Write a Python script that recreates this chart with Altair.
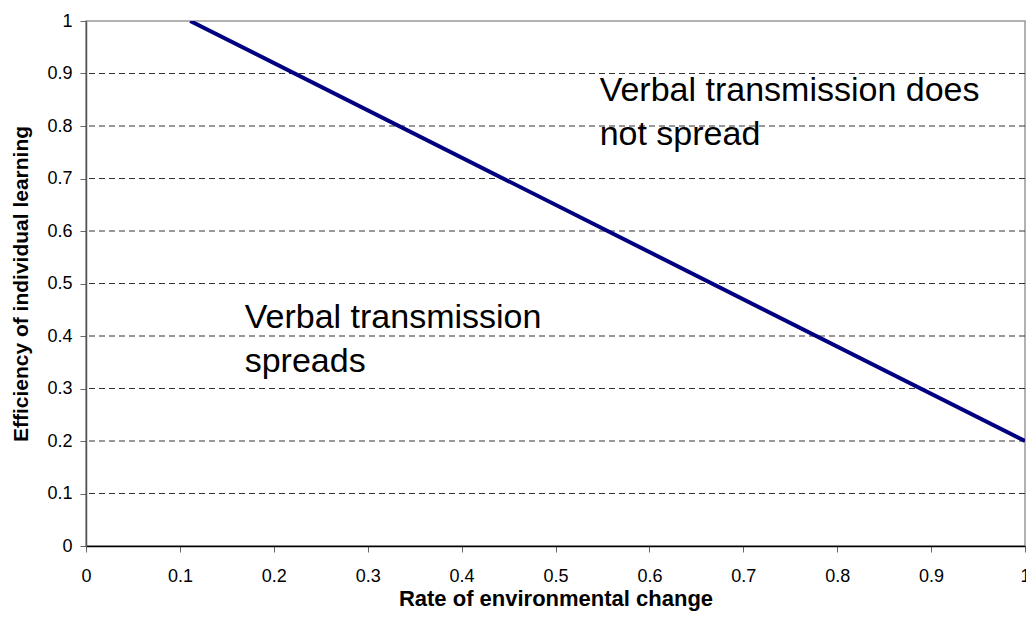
import altair as alt
import pandas as pd

# Boundary line (rate of environmental change vs efficiency of individual learning)
LINE_X = [0.111, 1.0]
LINE_Y = [1.0, 0.2]

# Dashed horizontal gridlines
GRID_Y = [0.1, 0.2, 0.3, 0.4, 0.5, 0.6, 0.7, 0.8, 0.9]

# Axis tick values
TICKS = [0, 0.1, 0.2, 0.3, 0.4, 0.5, 0.6, 0.7, 0.8, 0.9, 1]

# Region annotations
NOTE_TEXT = ["Verbal transmission\nspreads", "Verbal transmission does\nnot spread"]
NOTE_X = [0.169, 0.547]
NOTE_Y = [0.415, 0.848]

line_df = pd.DataFrame({"x": LINE_X, "y": LINE_Y})
grid_df = pd.DataFrame({"y": GRID_Y})
note_df = pd.DataFrame({"x": NOTE_X, "y": NOTE_Y, "t": NOTE_TEXT})

FONT = "Liberation Sans"

xscale = alt.Scale(domain=[0, 1], nice=False, zero=False)
yscale = alt.Scale(domain=[0, 1], nice=False, zero=False)

xaxis = alt.Axis(
    values=TICKS, format="~g", grid=False, title="Rate of environmental change",
    domainColor="#000000", domainWidth=1.5, tickColor="#666666", tickSize=6,
    labelFontSize=18, labelColor="#000000", labelPadding=15, labelFont=FONT,
    titleFont=FONT, titleFontSize=22, titleFontWeight="bold", titleColor="#000000",
    titlePadding=3, labelFlush=False,
)
yaxis = alt.Axis(
    values=TICKS, format="~g", grid=False, title="Efficiency of individual learning",
    domainColor="#555555", domainWidth=1.5, tickColor="#666666", tickSize=6,
    labelFontSize=18, labelColor="#000000", labelPadding=8, labelFont=FONT,
    titleFont=FONT, titleFontSize=21, titleFontWeight="bold", titleColor="#000000",
    titlePadding=15, labelFlush=False,
)

grid = alt.Chart(grid_df).mark_rule(
    color="#333333", strokeWidth=1, strokeDash=[6, 4]
).encode(
    y=alt.Y("y:Q", scale=yscale, axis=yaxis),
)

line = alt.Chart(line_df).mark_line(
    color="#000080", strokeWidth=4, clip=True
).encode(
    x=alt.X("x:Q", scale=xscale, axis=xaxis),
    y=alt.Y("y:Q", scale=yscale, axis=yaxis),
)

notes = alt.Chart(note_df).mark_text(
    align="left", baseline="alphabetic", font=FONT, fontSize=34,
    color="#000000", lineBreak="\n", lineHeight=44,
).encode(
    x=alt.X("x:Q", scale=xscale, axis=xaxis),
    y=alt.Y("y:Q", scale=yscale, axis=yaxis),
    text="t:N",
)

chart = alt.layer(grid, line, notes).properties(
    width=939,
    height=525,
    autosize=alt.AutoSizeParams(type="none"),
    padding={"left": 78, "top": 13, "right": 1, "bottom": 68},
    background="#ffffff",
).configure_view(
    stroke="#999999", strokeWidth=1.5,
)

chart.save("out.html", embed_options={"renderer": "svg", "actions": False})
